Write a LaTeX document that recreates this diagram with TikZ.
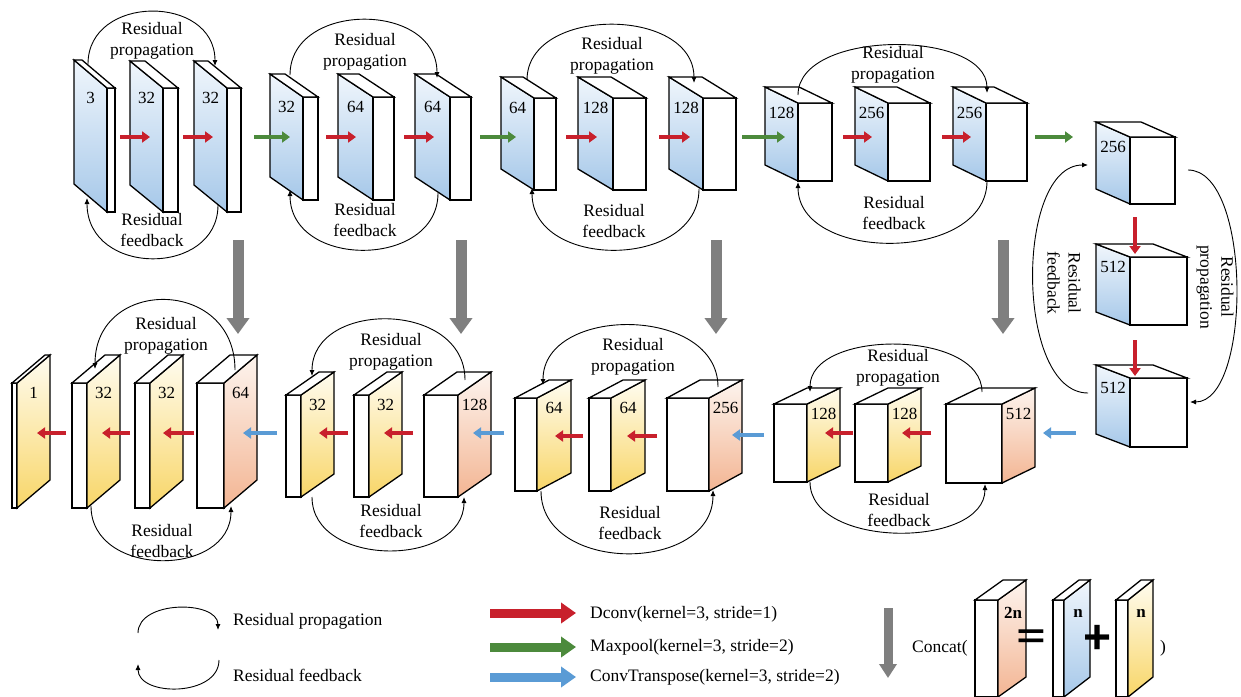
\documentclass[tikz,border=0pt]{standalone}
\usepackage{fontspec}
\usepackage{graphicx}
\setmainfont{Liberation Serif}
\newfontfamily\symfont{Liberation Sans}
\usetikzlibrary{arrows.meta}
\definecolor{arrred}{HTML}{C8202C}
\definecolor{arrgreen}{HTML}{4C8A3C}
\definecolor{arrblue}{HTML}{5A9BD5}
\definecolor{arrgray}{HTML}{7F7F7F}
\definecolor{bluetop}{HTML}{F0F6FC}
\definecolor{bluebot}{HTML}{A6C8E9}
\definecolor{yeltop}{HTML}{FFFCF0}
\definecolor{yelbot}{HTML}{F8D668}
\definecolor{ortop}{HTML}{FDF4EE}
\definecolor{orbot}{HTML}{F3B593}
\tikzset{
 boxline/.style={line width=1.3pt,line join=miter},
 lbl/.style={font=\fontsize{17}{17}\selectfont,inner sep=0pt},
 blbl/.style={font=\fontsize{17}{17}\selectfont\bfseries,inner sep=0pt},
 rtxt/.style={font=\fontsize{17.5}{21}\selectfont,align=center,inner sep=0pt},
 ltxt/.style={font=\fontsize{17.5}{21}\selectfont,inner sep=0pt,anchor=west},
 resarc/.style={line width=0.9pt,-{Latex[length=6pt,width=5pt]}},
 sred/.style={arrred,line width=4.5pt,-{Triangle[length=8pt,width=11pt]}},
 sgreen/.style={arrgreen,line width=4.5pt,-{Triangle[length=8pt,width=11pt]}},
 sblue/.style={arrblue,line width=4.5pt,-{Triangle[length=8pt,width=11pt]}},
 gdown/.style={arrgray,line width=11pt,-{Triangle[length=16pt,width=22pt]}},
 gdownsmall/.style={arrgray,line width=9pt,-{Triangle[length=14pt,width=17pt]}},
 lred/.style={arrred,line width=9pt,-{Triangle[length=15pt,width=20pt]}},
 lgreen/.style={arrgreen,line width=9pt,-{Triangle[length=15pt,width=20pt]}},
 lblue/.style={arrblue,line width=9pt,-{Triangle[length=15pt,width=20pt]}},
}
% box with coloured face on the left (depth up-left)
\newcommand\lbox[9]{%
 \fill[white] (#2,#4) rectangle (#3,#5);
 \shade[top color=#8top,bottom color=#8bot] (#2,#4)--(#2,#5)--({#2-#6},{#5-#7})--({#2-#6},{#4-#7})--cycle;
 \draw[boxline] (#2,#4) rectangle (#3,#5);
 \draw[boxline] (#2,#4)--(#2,#5)--({#2-#6},{#5-#7})--({#2-#6},{#4-#7})--cycle;
 \draw[boxline,fill=white] (#2,#4)--(#3,#4)--({#3-#6},{#4-#7})--({#2-#6},{#4-#7})--cycle;
 \node[lbl] (#1) at ({#2-#6/2},{#4+10}) {#9};
}
% box with coloured face on the right (depth up-right)
\newcommand\rbox[9]{%
 \draw[boxline,fill=white] (#2,#4) rectangle (#3,#5);
 \shade[top color=#8top,bottom color=#8bot] (#3,#4)--(#3,#5)--({#3+#6},{#5-#7})--({#3+#6},{#4-#7})--cycle;
 \draw[boxline] (#3,#4)--(#3,#5)--({#3+#6},{#5-#7})--({#3+#6},{#4-#7})--cycle;
 \draw[boxline,fill=white] (#2,#4)--(#3,#4)--({#3+#6},{#4-#7})--({#2+#6},{#4-#7})--cycle;
 \node[lbl] (#1) at ({#3+#6/2},{#4+10}) {#9};
}
\newcommand\conn[6]{\coordinate (#1a) at (#3,#4); \coordinate (#1b) at (#5,#6); \draw[#2] (#1a) -- (#1b);}
\newcommand\rarcv[6]{\coordinate (#1s) at (#2,#3); \coordinate (#1e) at (#4,#5);
 \draw[resarc] (#1s) .. controls (#2,#6) and (#4,#6) .. (#1e);}
\newcommand\rarch[6]{\coordinate (#1s) at (#2,#3); \coordinate (#1e) at (#4,#5);
 \draw[resarc] (#1s) .. controls (#6,#3) and (#6,#5) .. (#1e);}
\begin{document}
\begin{tikzpicture}[x=1pt,y=-1pt]
\useasboundingbox (0,0) rectangle (1241,696);
\clip (0,0) rectangle (1241,696);
\fill[white] (0,0) rectangle (1241,696);
% ---- top row (encoder) ----
\lbox{t1}{107}{115}{88}{212}{33}{28}{blue}{3}
\lbox{t2}{163}{178}{88}{212}{33}{27}{blue}{32}
\lbox{t3}{227}{241}{88}{212}{33}{27}{blue}{32}
\lbox{t4}{303}{318}{97}{200}{33}{23}{blue}{32}
\lbox{t5}{373}{394}{97}{200}{35}{23}{blue}{64}
\lbox{t6}{450}{471}{97}{200}{35}{23}{blue}{64}
\lbox{t7}{534}{556}{98}{190}{33}{21}{blue}{64}
\lbox{t8}{613}{646}{98}{190}{35}{21}{blue}{128}
\lbox{t9}{703}{736}{98}{190}{34}{21}{blue}{128}
\lbox{t10}{798}{832}{103}{181}{33}{16}{blue}{128}
\lbox{t11}{888}{930}{103}{181}{33}{16}{blue}{256}
\lbox{t12}{986}{1027}{103}{181}{33}{16}{blue}{256}
\lbox{r1}{1130}{1175}{137}{204}{34}{15}{blue}{256}
\lbox{r2}{1130}{1187}{257}{325}{34}{13}{blue}{512}
\lbox{r3}{1130}{1187}{378}{447}{34}{13}{blue}{512}
% ---- bottom row (decoder) ----
\rbox{b1}{12}{17}{383}{508}{33}{28}{yel}{1}
\rbox{b2}{72}{87}{383}{508}{33}{28}{yel}{32}
\rbox{b3}{135}{150}{383}{508}{33}{28}{yel}{32}
\rbox{b4}{197}{224}{383}{508}{33}{28}{or}{64}
\rbox{b5}{286}{301}{395}{497}{33}{23}{yel}{32}
\rbox{b6}{354}{369}{395}{497}{33}{23}{yel}{32}
\rbox{b7}{424}{458}{395}{497}{33}{23}{or}{128}
\rbox{b8}{515}{537}{398}{491}{34}{18}{yel}{64}
\rbox{b9}{589}{611}{398}{491}{34}{18}{yel}{64}
\rbox{b10}{667}{709}{398}{491}{33}{18}{or}{256}
\rbox{b11}{774}{807}{404}{482}{33}{16}{yel}{128}
\rbox{b12}{855}{888}{404}{482}{33}{16}{yel}{128}
\rbox{b13}{946}{1002}{404}{483}{33}{16}{or}{512}
% ---- small arrows ----
\conn{a1}{sred}{120}{137}{150}{137}
\conn{a2}{sred}{183}{137}{213}{137}
\conn{a3}{sgreen}{254}{137}{290}{137}
\conn{a4}{sred}{326}{137}{356}{137}
\conn{a5}{sred}{404}{137}{434}{137}
\conn{a6}{sgreen}{480}{137}{516}{137}
\conn{a7}{sred}{566}{137}{597}{137}
\conn{a8}{sred}{659}{137}{690}{137}
\conn{a9}{sgreen}{742}{137}{785}{137}
\conn{a10}{sred}{843}{137}{872}{137}
\conn{a11}{sred}{942}{137}{971}{137}
\conn{a12}{sgreen}{1035}{137}{1073}{137}
\conn{a13}{sred}{1135}{217}{1135}{254}
\conn{a14}{sred}{1135}{340}{1135}{376}
\conn{c1}{sblue}{1076}{433}{1043}{433}
\conn{c2}{sred}{931}{433}{902}{433}
\conn{c3}{sred}{853}{433}{825}{433}
\conn{c4}{sblue}{764}{435}{732}{435}
\conn{c5}{sred}{657}{436}{627}{436}
\conn{c6}{sred}{583}{436}{555}{436}
\conn{c7}{sblue}{504}{433}{473}{433}
\conn{c8}{sred}{413}{433}{384}{433}
\conn{c9}{sred}{348}{433}{319}{433}
\conn{c10}{sblue}{277}{433}{243}{433}
\conn{c11}{sred}{194}{433}{163}{433}
\conn{c12}{sred}{130}{433}{102}{433}
\conn{c13}{sred}{66}{433}{37}{433}
% ---- concat (gray) arrows ----
\conn{g1}{gdown}{238}{240}{238}{334}
\conn{g2}{gdown}{461}{240}{461}{334}
\conn{g3}{gdown}{716}{240}{716}{334}
\conn{g4}{gdown}{1003}{240}{1003}{334}
% ---- residual arcs ----
\rarcv{p1}{88}{64}{215}{66}{-6}
\rarcv{f1}{218}{205}{87}{198}{277}
\rarcv{p2}{290}{75}{437}{78}{1}
\rarcv{f2}{438}{193}{290}{190}{269}
\rarcv{p3}{527}{80}{694}{83}{6}
\rarcv{f3}{699}{189}{532}{188}{270}
\rarcv{p4}{798}{95}{987}{93}{29}
\rarcv{f4}{987}{181}{798}{182}{263}
\rarch{p5}{1188}{170}{1190}{402}{1252}
\rarch{f5}{1088}{393}{1088}{165}{1015}
\rarcv{p6}{235}{370}{95}{369}{277}
\rarcv{f6}{91}{506}{231}{506}{578}
\rarcv{p7}{465}{380}{312}{376}{300}
\rarcv{f7}{312}{497}{464}{497}{568}
\rarcv{p8}{718}{387}{543}{385}{305}
\rarcv{f8}{541}{491}{713}{490}{574}
\rarcv{p9}{982}{392}{810}{392}{329}
\rarcv{f9}{810}{482}{985}{484}{549}
% ---- residual labels ----
\node[rtxt] (tp1) at (152,41) {Residual\\propagation};
\node[rtxt] (tf1) at (152,230) {Residual\\feedback};
\node[rtxt] (tp2) at (365,52) {Residual\\propagation};
\node[rtxt] (tf2) at (365,220) {Residual\\feedback};
\node[rtxt] (tp3) at (612,56) {Residual\\propagation};
\node[rtxt] (tf3) at (614,221) {Residual\\feedback};
\node[rtxt] (tp4) at (893,65) {Residual\\propagation};
\node[rtxt] (tf4) at (894,213) {Residual\\feedback};
\node[rtxt,rotate=-90] (tp5) at (1215,287) {Residual\\propagation};
\node[rtxt,rotate=-90] (tf5) at (1064,283) {Residual\\feedback};
\node[rtxt] (tp6) at (166,336) {Residual\\propagation};
\node[rtxt] (tf6) at (162,541) {Residual\\feedback};
\node[rtxt] (tp7) at (391,352) {Residual\\propagation};
\node[rtxt] (tf7) at (391,521) {Residual\\feedback};
\node[rtxt] (tp8) at (633,357) {Residual\\propagation};
\node[rtxt] (tf8) at (630,523) {Residual\\feedback};
\node[rtxt] (tp9) at (898,368) {Residual\\propagation};
\node[rtxt] (tf9) at (899,510) {Residual\\feedback};
% ---- legend ----
\rarcv{lp}{138}{633}{218}{630}{600}
\rarcv{lf}{219}{660}{138}{664}{697}
\node[ltxt] (lpt) at (233,621) {Residual propagation};
\node[ltxt] (lft) at (233,675) {Residual feedback};
\conn{l1}{lred}{490}{613}{576}{613}
\conn{l2}{lgreen}{490}{647}{576}{647}
\conn{l3}{lblue}{490}{677}{576}{677}
\node[ltxt] (l1t) at (590,614) {Dconv(kernel=3, stride=1)};
\node[ltxt] (l2t) at (590,647) {Maxpool(kernel=3, stride=2)};
\node[ltxt] (l3t) at (590,677) {ConvTranspose(kernel=3, stride=2)};
\conn{g5}{gdownsmall}{888}{608}{888}{678}
\node[ltxt] (cct) at (912,648) {Concat(};
\rbox{k1}{975}{998}{600}{697}{28}{20}{or}{}
\rbox{k2}{1053}{1064}{600}{697}{26}{20}{blue}{}
\rbox{k3}{1116}{1128}{600}{697}{25}{20}{yel}{}
\node[blbl] (k1l) at (1013,613) {2n};
\node[blbl] (k2l) at (1078,613) {n};
\node[blbl] (k3l) at (1141,613) {n};
\node[font=\symfont\bfseries\fontsize{34}{34}\selectfont,inner sep=0pt] (eq) at (1031,639) {\scalebox{1.45}[1]{=}};
\node[font=\symfont\bfseries\fontsize{48}{48}\selectfont,inner sep=0pt] (pl) at (1097,639) {+};
\node[ltxt] (cpar) at (1160,648) {)};
\end{tikzpicture}
\end{document}
